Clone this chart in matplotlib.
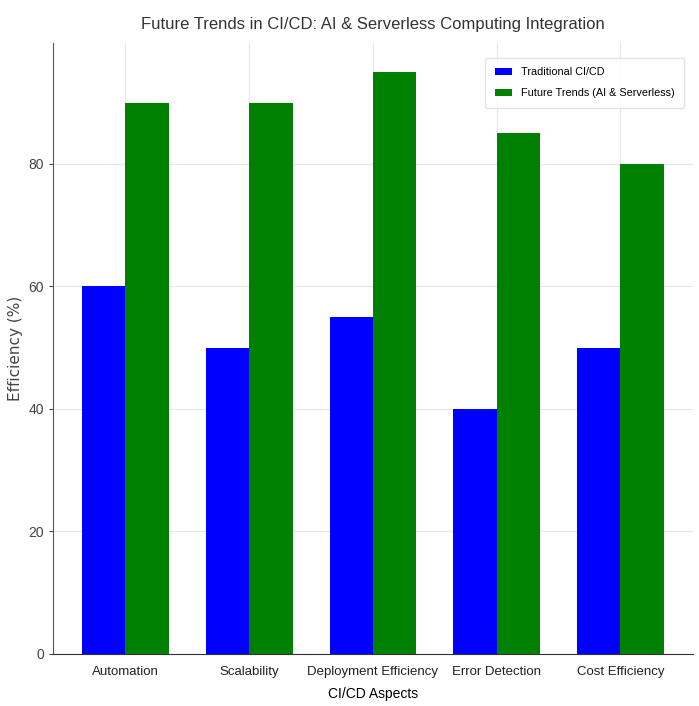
import numpy as np
import matplotlib
matplotlib.use("Agg")
import matplotlib.pyplot as plt

categories = ['Automation', 'Scalability', 'Deployment Efficiency', 'Error Detection', 'Cost Efficiency']
traditional = [60, 50, 55, 40, 50]
future = [90, 90, 95, 85, 80]

narrow = ['Liberation Sans', 'DejaVu Sans']

fig = plt.figure(figsize=(6.99, 7.06), dpi=100)
ax = fig.add_axes([0.076, 0.074, 0.915, 0.865])

x = np.arange(len(categories))
width = 0.35
ax.bar(x - width / 2, traditional, width, color='blue', label='Traditional CI/CD', zorder=3)
ax.bar(x + width / 2, future, width, color='green', label='Future Trends (AI & Serverless)', zorder=3)

ax.set_xticks(x)
ax.set_xticklabels(categories, family=narrow, fontsize=9.5)
ax.set_yticks([0, 20, 40, 60, 80])
for lbl in ax.get_yticklabels():
    lbl.set_family(narrow)
    lbl.set_fontsize(10)

ax.set_xlabel('CI/CD Aspects', family=narrow, fontsize=10, labelpad=6)
ax.set_ylabel('Efficiency (%)', fontsize=11, color='#444444', labelpad=4)
ax.set_title('Future Trends in CI/CD: AI & Serverless Computing Integration',
             family=narrow, fontsize=12, color='#333333', pad=10)

ax.grid(True, color='#e6e6e6', linewidth=0.8, zorder=0)
ax.spines['top'].set_visible(False)
ax.spines['right'].set_visible(False)
ax.spines['left'].set_color('#555555')
ax.spines['bottom'].set_color('#333333')
ax.tick_params(axis='x', length=0, pad=9, colors='#222222')
ax.tick_params(axis='y', length=3, colors='#444444')

leg = ax.legend(loc='upper right', bbox_to_anchor=(0.995, 0.985),
                prop={'family': narrow, 'size': 7.8}, frameon=True,
                edgecolor='#dddddd', handlelength=1.6, borderpad=0.9, labelspacing=1.0)

fig.savefig('out.png', dpi=100)
